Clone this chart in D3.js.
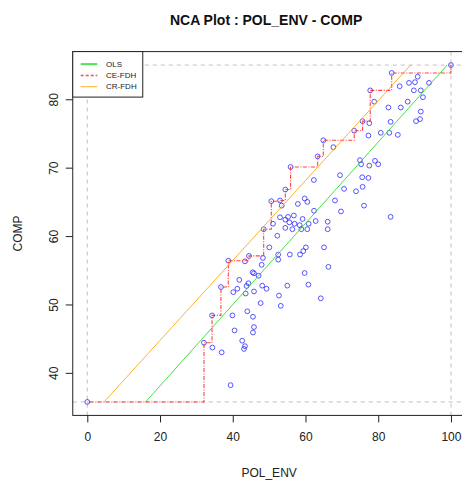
<!DOCTYPE html>
<html>
<head>
<meta charset="utf-8">
<script src="https://cdn.jsdelivr.net/npm/d3@7"></script>
<style>
  html, body { margin: 0; padding: 0; background: #fff; }
  svg text { font-family: "Liberation Sans", Arial, sans-serif; }
</style>
</head>
<body>
<svg id="chart" width="462" height="482"></svg>
<script>
// POL_ENV (x) and COMP (y) observations
const polEnv = [100, 83.7, 85.9, 88.46, 90.1, 90.85, 89.8, 91.7, 93.96, 92.3,
  77.8, 78.9, 88.1, 82.8, 86.2, 91.7, 91.5, 90.4, 75.7, 77.55,
  83.4, 73.4, 80.7, 83.05, 85.4, 77.3, 64.9, 67.65, 63.35, 55.9,
  74.98, 75.3, 79.1, 80.0, 77.55, 69.5, 75.6, 77.3, 62.3, 70.6,
  75.7, 73.9, 54.45, 59.77, 60.5, 57.9, 50.6, 52.99, 53.45, 68.1,
  76.1, 69.76, 83.4, 62.35, 52.99, 55.2, 56.8, 54.45, 55.56, 59.2,
  51.07, 57.0, 58.4, 60.87, 54.45, 56.4, 58.86, 60.5, 62.8, 66.1,
  66.1, 48.5, 52.25, 50.05, 60.1, 59.4, 58.5, 65.1, 52.5, 55.7,
  52.5, 44.46, 38.78, 43.36, 48.3, 47.95, 45.47, 45.84, 66.3, 59.77,
  47.1, 41.8, 44.3, 43.8, 36.75, 41.25, 40.15, 48.1, 49.3, 45.84,
  43.55, 55.0, 60.8, 52.7, 47.67, 53.2, 64.2, 34.3, 39.9, 44.0,
  45.56, 40.5, 45.84, 45.56, 32.08, 34.4, 36.95, 42.6, 43.36, 43.1,
  39.4, 0];
const comp = [85, 83.85, 81.9, 82.4, 82.5, 83.3, 81.3, 81.3, 82.4, 80.3,
  81.3, 79.65, 79.65, 78.8, 78.8, 78.2, 77.1, 76.8, 76.8, 76.5,
  76.7, 75.4, 75.1, 75.1, 74.8, 74.7, 74.0, 73.0, 71.65, 70.1,
  71.1, 70.5, 71.0, 70.5, 70.3, 68.9, 68.6, 68.5, 68.2, 66.9,
  67.2, 66.55, 66.8, 65.5, 65.0, 64.7, 65.1, 65.2, 64.45, 65.2,
  64.45, 63.6, 62.8, 63.7, 62.75, 62.8, 63.0, 62.4, 62.0, 62.5,
  61.8, 61.8, 61.6, 61.8, 61.2, 61.0, 61.0, 61.0, 62.2, 62.1,
  61.0, 61.0, 60.05, 58.35, 58.35, 57.8, 57.3, 58.35, 57.3, 57.3,
  56.55, 57.1, 56.4, 56.3, 56.8, 55.8, 54.7, 54.56, 55.5, 54.6,
  54.2, 53.6, 53.1, 52.7, 52.55, 52.3, 51.8, 52.75, 52.3, 51.9,
  51.6, 52.75, 52.9, 51.3, 50.2, 49.8, 50.9, 48.4, 48.4, 49.0,
  48.2, 46.2, 46.7, 45.9, 44.4, 43.7, 43.0, 44.7, 43.9, 43.5,
  38.2, 35.75];

// Fitted ceiling / regression lines: intercept and slope
const olsLine = { intercept: 26.22, slope: 0.594 };
const crFdhLine = { intercept: 33.06, slope: 0.5842 };

// Scope of the data
const scopeX = [0, 100];
const scopeY = [35.75, 85];

const xTicks = [0, 20, 40, 60, 80, 100];
const yTicks = [40, 50, 60, 70, 80];
const legendNames = ["OLS", "CE-FDH", "CR-FDH"];

const points = polEnv.map((v, i) => ({ x: v, y: comp[i] }));

const svg = d3.select("#chart");
const plot = { left: 72.75, right: 465.5, top: 51.6, bottom: 415.4 };

const pad = 0.04;
const xr = scopeX[1] - scopeX[0], yr = scopeY[1] - scopeY[0];
const x = d3.scaleLinear()
  .domain([scopeX[0] - pad * xr, scopeX[1] + pad * xr])
  .range([plot.left, plot.right]);
const y = d3.scaleLinear()
  .domain([scopeY[0] - pad * yr, scopeY[1] + pad * yr])
  .range([plot.bottom, plot.top]);

svg.append("clipPath").attr("id", "plotclip")
  .append("rect")
  .attr("x", plot.left).attr("y", plot.top)
  .attr("width", plot.right - plot.left).attr("height", plot.bottom - plot.top);

const g = svg.append("g").attr("clip-path", "url(#plotclip)");

// Scope reference lines
const grey = "#c0c0c0";
scopeX.forEach(v => {
  g.append("line")
    .attr("x1", x(v)).attr("x2", x(v))
    .attr("y1", plot.top).attr("y2", plot.bottom)
    .attr("stroke", grey).attr("stroke-width", 1)
    .attr("stroke-dasharray", "4,4");
});
scopeY.forEach(v => {
  g.append("line")
    .attr("x1", plot.left).attr("x2", plot.right)
    .attr("y1", y(v)).attr("y2", y(v))
    .attr("stroke", grey).attr("stroke-width", 1)
    .attr("stroke-dasharray", "4,4");
});

// Points
g.selectAll("circle.pt").data(points).enter().append("circle")
  .attr("class", "pt")
  .attr("cx", d => x(d.x)).attr("cy", d => y(d.y))
  .attr("r", 2.4)
  .attr("fill", "none")
  .attr("stroke", "#2020ff")
  .attr("stroke-opacity", 0.75)
  .attr("stroke-width", 1);

// Straight lines restricted to the scope
function scopedSegment(line) {
  let x0 = scopeX[0], x1 = scopeX[1];
  const xAtY = yy => (yy - line.intercept) / line.slope;
  x0 = Math.max(x0, xAtY(scopeY[0]));
  x1 = Math.min(x1, xAtY(scopeY[1]));
  return [[x0, line.intercept + line.slope * x0], [x1, line.intercept + line.slope * x1]];
}
const lineGen = d3.line().x(d => x(d[0])).y(d => y(d[1]));

g.append("path").datum(scopedSegment(olsLine))
  .attr("d", lineGen).attr("fill", "none")
  .attr("stroke", "#22dd22").attr("stroke-opacity", 0.85).attr("stroke-width", 1);

// CE-FDH: step ceiling through the running maxima
const sorted = points.slice().sort((a, b) => a.x - b.x || b.y - a.y);
const peers = [];
let best = -Infinity;
sorted.forEach(p => { if (p.y > best) { peers.push(p); best = p.y; } });
const stepGen = d3.line().x(d => x(d.x)).y(d => y(d.y)).curve(d3.curveStepAfter);
g.append("path").datum(peers)
  .attr("d", stepGen).attr("fill", "none")
  .attr("stroke", "#ff2020").attr("stroke-opacity", 0.85).attr("stroke-width", 1.1)
  .attr("stroke-dasharray", "1,1.5,4,1.5");

g.append("path").datum(scopedSegment(crFdhLine))
  .attr("d", lineGen).attr("fill", "none")
  .attr("stroke", "#ffa500").attr("stroke-opacity", 0.85).attr("stroke-width", 1);

// Plot frame
svg.append("rect")
  .attr("x", plot.left).attr("y", plot.top)
  .attr("width", plot.right - plot.left).attr("height", plot.bottom - plot.top)
  .attr("fill", "none").attr("stroke", "#222").attr("stroke-width", 1);

// Axes
const xAxis = svg.append("g").attr("transform", `translate(0,${plot.bottom})`)
  .call(d3.axisBottom(x).tickValues(xTicks).tickSize(7).tickPadding(10).tickFormat(d3.format("d")));
xAxis.select(".domain").remove();
xAxis.selectAll("line").attr("stroke", "#222");
xAxis.selectAll("text").attr("font-size", 12).attr("fill", "#222")
  .attr("font-family", "Liberation Sans, Arial, sans-serif");

const yAxis = svg.append("g").attr("transform", `translate(${plot.left},0)`)
  .call(d3.axisLeft(y).tickValues(yTicks).tickSize(7).tickFormat(d3.format("d")));
yAxis.select(".domain").remove();
yAxis.selectAll("line").attr("stroke", "#222");
yAxis.selectAll("text")
  .attr("font-size", 12).attr("fill", "#222")
  .attr("font-family", "Liberation Sans, Arial, sans-serif")
  .attr("x", 0).attr("dy", null)
  .attr("text-anchor", "middle")
  .attr("transform", "translate(-19,0) rotate(-90)")
  .attr("dominant-baseline", "central");

// Titles
const cx = (plot.left + plot.right) / 2;
svg.append("text").attr("x", cx - 3).attr("y", 25)
  .attr("text-anchor", "middle").attr("font-size", 14).attr("font-weight", "bold")
  .attr("fill", "#111").text("NCA Plot : POL_ENV - COMP");
svg.append("text").attr("x", cx).attr("y", 477)
  .attr("text-anchor", "middle").attr("font-size", 12).attr("fill", "#222").text("POL_ENV");
svg.append("text")
  .attr("transform", `translate(22,${(plot.top + plot.bottom) / 2}) rotate(-90)`)
  .attr("text-anchor", "middle").attr("font-size", 12).attr("fill", "#222").text("COMP");

// Legend
const legend = svg.append("g");
legend.append("rect")
  .attr("x", plot.left).attr("y", plot.top)
  .attr("width", 70).attr("height", 45.5)
  .attr("fill", "#fff").attr("stroke", "#222").attr("stroke-width", 1);
const legendStyles = [
  { color: "#33dd33", dash: null, width: 2 },
  { color: "#ff3030", dash: "3,2", width: 1.5 },
  { color: "#ffa500", dash: null, width: 1 }
];
legendNames.forEach((name, i) => {
  const ly = plot.top + 12.5 + i * 11.3;
  legend.append("line")
    .attr("x1", 80.7).attr("x2", 97.3).attr("y1", ly).attr("y2", ly)
    .attr("stroke", legendStyles[i].color).attr("stroke-opacity", 0.85)
    .attr("stroke-width", legendStyles[i].width)
    .attr("stroke-dasharray", legendStyles[i].dash);
  legend.append("text")
    .attr("x", 106).attr("y", ly).attr("dominant-baseline", "central")
    .attr("font-size", 8).attr("fill", "#222").text(name);
});
</script>
</body>
</html>
